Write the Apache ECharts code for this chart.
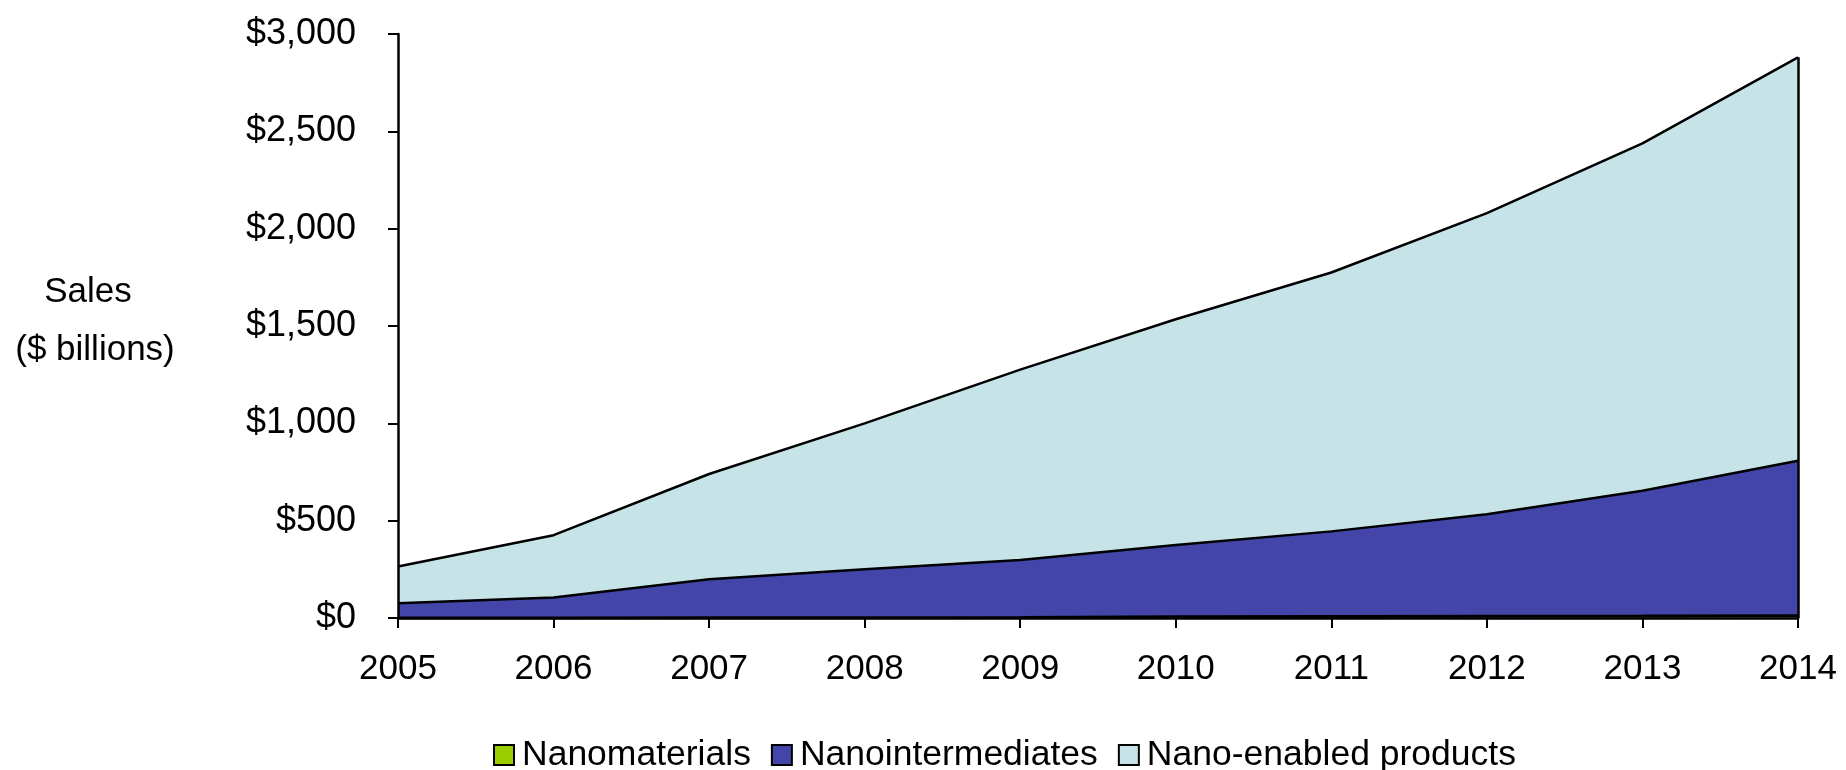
<!DOCTYPE html>
<html>
<head>
<meta charset="utf-8">
<script src="https://cdn.jsdelivr.net/npm/echarts@6/dist/echarts.min.js"></script>
<style>
html,body{margin:0;padding:0;background:#fff;}
#chart{width:1846px;height:770px;}
</style>
</head>
<body>
<div id="chart"></div>
<script>
const years = ['2005','2006','2007','2008','2009','2010','2011','2012','2013','2014'];
const nanomaterials = [0.3, 0.5, 0.8, 1, 2, 6, 8, 9, 10, 12];
const nanointermediates = [75, 105, 198, 249, 296, 369, 437, 524, 644, 796];
const nanoEnabled = [189, 320, 541, 750, 978, 1160, 1330, 1547, 1784, 2072];
const seriesNames = ['Nanomaterials', 'Nanointermediates', 'Nano-enabled products'];
const yTicks = [0, 500, 1000, 1500, 2000, 2500, 3000];

const FONT = 'Liberation Sans, Arial, sans-serif';
const colors = ['#9ACD00', '#4346A8', '#C6E4E8'];
const totals = years.map((_, i) => nanomaterials[i] + nanointermediates[i] + nanoEnabled[i]);
const lastIdx = years.length - 1;

function fmt(v){ return '$' + v.toLocaleString('en-US'); }

const chart = echarts.init(document.getElementById('chart'));
const dataSets = [nanomaterials, nanointermediates, nanoEnabled];
const series = dataSets.map((d, i) => ({
  name: seriesNames[i],
  type: 'line',
  stack: 'total',
  data: d,
  color: colors[i],
  showSymbol: false,
  symbol: 'none',
  lineStyle: { color: '#000', width: i === 0 ? 3 : 2.5 },
  areaStyle: { color: colors[i], opacity: 1 },
  itemStyle: { color: colors[i], borderColor: '#000', borderWidth: 2 },
  emphasis: { disabled: true },
  animation: false,
  z: 2
}));
series[2].markLine = {
  symbol: 'none',
  silent: true,
  label: { show: false },
  lineStyle: { color: '#000', width: 2.5, type: 'solid' },
  data: [[{ coord: [years[lastIdx], 0] }, { coord: [years[lastIdx], totals[lastIdx]] }]]
};

chart.setOption({
  animation: false,
  backgroundColor: '#fff',
  grid: { left: 398, right: 48, top: 34, bottom: 152, containLabel: false },
  xAxis: {
    type: 'category',
    data: years,
    boundaryGap: false,
    axisLine: { show: true, lineStyle: { color: '#000', width: 2.5 } },
    axisTick: { show: true, alignWithLabel: true, length: 10, lineStyle: { color: '#000', width: 2 } },
    axisLabel: { color: '#000', fontSize: 35, fontFamily: FONT, margin: 34 },
    splitLine: { show: false },
    z: 5
  },
  yAxis: {
    type: 'value',
    min: yTicks[0],
    max: yTicks[yTicks.length - 1],
    interval: yTicks[1] - yTicks[0],
    axisLine: { show: true, lineStyle: { color: '#000', width: 2.5 } },
    axisTick: { show: true, length: 10, lineStyle: { color: '#000', width: 2 } },
    axisLabel: { color: '#000', fontSize: 36, fontFamily: FONT, margin: 42, formatter: fmt },
    splitLine: { show: false },
    z: 5
  },
  legend: {
    data: seriesNames,
    left: 488,
    top: 732,
    icon: 'rect',
    itemWidth: 20,
    itemHeight: 20,
    itemGap: 20,
    textStyle: { color: '#000', fontSize: 35.5, fontFamily: FONT, padding: [0, 0, 0, 3] },
    itemStyle: { borderColor: '#000', borderWidth: 2 },
    lineStyle: { width: 0 }
  },
  graphic: [
    { type: 'text', x: 88, y: 292, style: { text: 'Sales', fill: '#000', font: '35px ' + FONT, textAlign: 'center', textVerticalAlign: 'middle' } },
    { type: 'text', x: 95, y: 350, style: { text: '($ billions)', fill: '#000', font: '35px ' + FONT, textAlign: 'center', textVerticalAlign: 'middle' } }
  ],
  series: series
});
</script>
</body>
</html>
